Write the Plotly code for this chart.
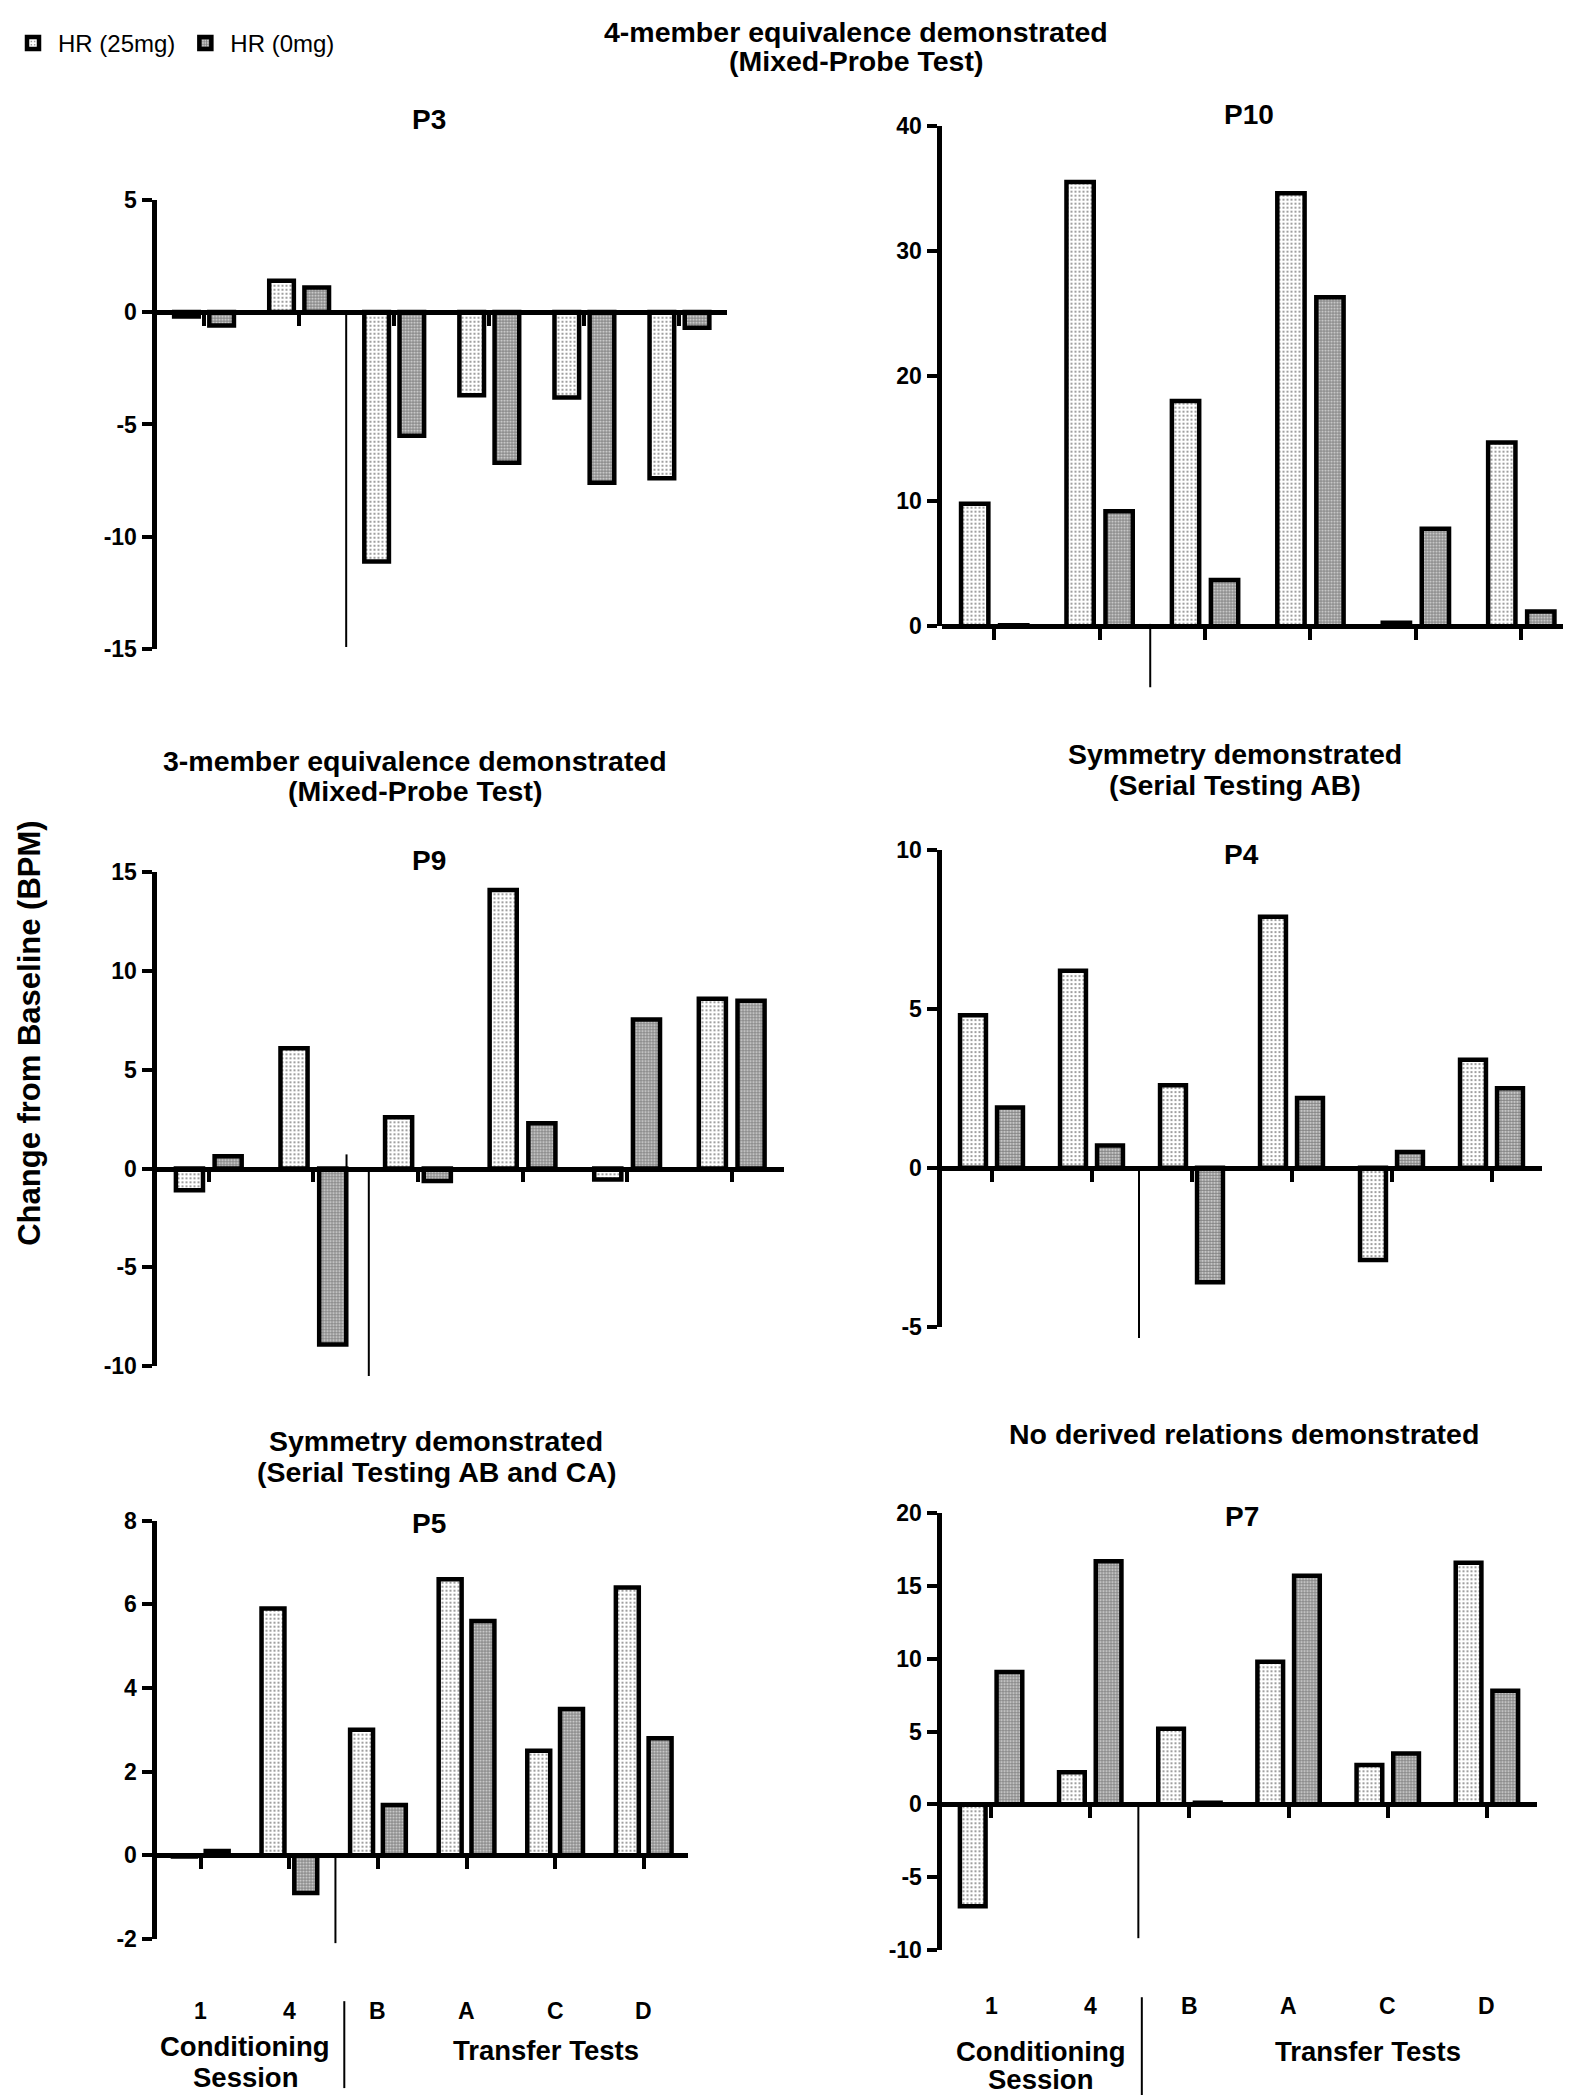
import plotly.graph_objects as go

# ---------------- data ----------------
categories = ["1", "4", "B", "A", "C", "D"]
series_names = ["HR (25mg)", "HR (0mg)"]

p3_hr25 = [-0.2, 1.4, -11.1, -3.7, -3.8, -7.4]
p3_hr0 = [-0.6, 1.1, -5.5, -6.7, -7.6, -0.7]

p10_hr25 = [9.8, 35.5, 18.0, 34.6, 0.3, 14.7]
p10_hr0 = [0.1, 9.2, 3.7, 26.3, 7.8, 1.2]

p9_hr25 = [-1.1, 6.1, 2.6, 14.1, -0.55, 8.6]
p9_hr0 = [0.63, -8.9, -0.63, 2.3, 7.55, 8.5]

p4_hr25 = [4.8, 6.2, 2.6, 7.9, -2.9, 3.4]
p4_hr0 = [1.9, 0.7, -3.6, 2.2, 0.5, 2.5]

p5_hr25 = [-0.03, 5.9, 3.0, 6.6, 2.5, 6.4]
p5_hr0 = [0.1, -0.9, 1.2, 5.6, 3.5, 2.8]

p7_hr25 = [-7.0, 2.2, 5.2, 9.8, 2.7, 16.6]
p7_hr0 = [9.1, 16.7, 0.1, 15.7, 3.5, 7.8]

p3_ticks = [-15, -10, -5, 0, 5]
p10_ticks = [0, 10, 20, 30, 40]
p9_ticks = [-10, -5, 0, 5, 10, 15]
p4_ticks = [-5, 0, 5, 10]
p5_ticks = [-2, 0, 2, 4, 6, 8]
p7_ticks = [-10, -5, 0, 5, 10, 15, 20]

panel_names = ["P3", "P10", "P9", "P4", "P5", "P7"]
headers = [
    ["4-member equivalence demonstrated", "(Mixed-Probe Test)"],
    [],
    ["3-member equivalence demonstrated", "(Mixed-Probe Test)"],
    ["Symmetry demonstrated", "(Serial Testing AB)"],
    ["Symmetry demonstrated", "(Serial Testing AB and CA)"],
    ["No derived relations demonstrated"],
]
bottom_group_labels = ["Conditioning", "Session", "Transfer Tests"]
y_title = "Change from Baseline (BPM)"

# separator segments in category / value units: (x, y_top, y_bottom)
p3_sep = [(1.495, 0, -14.9)]
p10_sep = [(1.48, 0.2, -4.86)]
p9_sep = [(1.317, 0.72, 0), (1.53, 0, -10.5)]
p4_sep = [(1.475, 0, -5.36)]
p5_sep = [(1.52, 0, -2.1)]
p7_sep = [(1.485, 0, -9.2)]

# ---------------- layout geometry (pixels) ----------------
W, H = 1571, 2100
FONT = "Liberation Sans, Arial, Helvetica, sans-serif"

panels = [
    dict(h25=p3_hr25, h0=p3_hr0, ticks=p3_ticks, sep=p3_sep,
         px=(148.5, 719), py=(181, 636), title=(421, 100),
         head=(848, [11, 41])),
    dict(h25=p10_hr25, h0=p10_hr0, ticks=p10_ticks, sep=p10_sep,
         px=(933.5, 1566), py=(106, 613), title=(1241, 95), head=None),
    dict(h25=p9_hr25, h0=p9_hr0, ticks=p9_ticks, sep=p9_sep,
         px=(148.5, 776), py=(862, 1362), title=(421, 850),
         head=(407, [749, 780])),
    dict(h25=p4_hr25, h0=p4_hr0, ticks=p4_ticks, sep=p4_sep,
         px=(933.5, 1533.5), py=(839.5, 1322), title=(1233.5, 844),
         head=(1227, [742, 774])),
    dict(h25=p5_hr25, h0=p5_hr0, ticks=p5_ticks, sep=p5_sep,
         px=(148.5, 680), py=(1518.5, 1942), title=(421, 1521),
         head=(428, [1438, 1469])),
    dict(h25=p7_hr25, h0=p7_hr0, ticks=p7_ticks, sep=p7_sep,
         px=(933.5, 1528.5), py=(1511, 1953), title=(1233.5, 1514),
         head=(1236, [1431])),
]


def fx(p):
    return p / W


def fy(p):
    return 1 - p / H


pat25 = dict(shape=".", fgcolor="black", bgcolor="white", size=4, solidity=0.2)
pat0 = dict(shape=".", fgcolor="black", bgcolor="white", size=3, solidity=0.7)

fig = go.Figure()
shapes = []
annotations = []
layout_axes = {}

x_idx = list(range(len(categories)))

for i, pn in enumerate(panels, start=1):
    xa = "x" if i == 1 else f"x{i}"
    ya = "y" if i == 1 else f"y{i}"
    ymin, ymax = min(pn["ticks"]), max(pn["ticks"])
    for vals, name, pat in ((pn["h25"], series_names[0], pat25),
                            (pn["h0"], series_names[1], pat0)):
        fig.add_trace(go.Bar(
            x=x_idx, y=vals, name=name, xaxis=xa, yaxis=ya,
            legendgroup=name, showlegend=(i == 1),
            marker=dict(color="white", pattern=pat,
                        line=dict(color="black", width=4.5)),
        ))
    yd = [fy(pn["py"][1]), fy(pn["py"][0])]
    xd = [fx(pn["px"][0]), fx(pn["px"][1])]
    zero_pos = yd[0] + (0 - ymin) / (ymax - ymin) * (yd[1] - yd[0])
    layout_axes["xaxis" if i == 1 else f"xaxis{i}"] = dict(
        domain=xd, range=[-0.5, len(categories) - 0.5], anchor="free",
        position=zero_pos, tickmode="array", tickvals=x_idx,
        showticklabels=False, ticks="outside", ticklen=11, tickwidth=3.5,
        tickcolor="black", showline=True, linewidth=4.5, linecolor="black",
        showgrid=False, zeroline=False, fixedrange=True,
    )
    layout_axes["yaxis" if i == 1 else f"yaxis{i}"] = dict(
        domain=yd, range=[ymin, ymax], anchor=xa, tickmode="array",
        tickvals=pn["ticks"], ticktext=[str(t) for t in pn["ticks"]],
        ticks="outside", ticklen=10, tickwidth=3.5,
        tickcolor="black", showline=True, linewidth=5, linecolor="black",
        showgrid=False, zeroline=False, fixedrange=True,
        tickfont=dict(family=FONT, size=23, color="black", weight="bold"),
    )
    # separators
    for (sx, st, sb) in pn["sep"]:
        xf = (sx + 0.5) / len(categories)
        shapes.append(dict(
            type="line", xref=f"{xa} domain", yref=f"{ya} domain",
            x0=xf, x1=xf,
            y0=(st - ymin) / (ymax - ymin), y1=(sb - ymin) / (ymax - ymin),
            line=dict(color="black", width=2),
        ))
    # panel title
    annotations.append(dict(
        text=panel_names[i - 1], x=fx(pn["title"][0]), y=fy(pn["title"][1]),
        xref="paper", yref="paper", showarrow=False, xanchor="center",
        yanchor="middle",
        font=dict(family=FONT, size=28, color="black", weight="bold"),
    ))
    if pn["head"] is not None:
        hx, hys = pn["head"]
        for line_text, hy in zip(headers[i - 1], hys):
            annotations.append(dict(
                text=line_text, x=fx(hx), y=fy(hy), xref="paper",
                yref="paper", showarrow=False, xanchor="center",
                yanchor="middle",
                font=dict(family=FONT, size=28.5, color="black", weight="bold"),
            ))

# bottom category labels and group labels (under P5 and P7)
bottom_cfg = [
    dict(panel=5, lab_y=2015, cond=(0.5, 2051, 2082), trans=(3.9, 2055),
         div=(1.62, 2005, 2093)),
    dict(panel=6, lab_y=2010, cond=(0.5, 2056, 2084), trans=(3.8, 2056),
         div=(1.52, 2001, 2100)),
]
for bc in bottom_cfg:
    xa = f"x{bc['panel']}"
    for k, c in enumerate(categories):
        annotations.append(dict(
            text=c, x=k, y=fy(bc["lab_y"]), xref=xa, yref="paper",
            showarrow=False, xanchor="center", yanchor="middle",
            font=dict(family=FONT, size=23, color="black", weight="bold"),
        ))
    cx, cy1, cy2 = bc["cond"]
    for txt, yy in ((bottom_group_labels[0], cy1), (bottom_group_labels[1], cy2)):
        annotations.append(dict(
            text=txt, x=cx, y=fy(yy), xref=xa, yref="paper", showarrow=False,
            xanchor="center", yanchor="middle",
            font=dict(family=FONT, size=27.5, color="black", weight="bold"),
        ))
    tx, ty = bc["trans"]
    annotations.append(dict(
        text=bottom_group_labels[2], x=tx, y=fy(ty), xref=xa, yref="paper",
        showarrow=False, xanchor="center", yanchor="middle",
        font=dict(family=FONT, size=27.5, color="black", weight="bold"),
    ))
    dx, dy0, dy1 = bc["div"]
    xf = (dx + 0.5) / len(categories)
    shapes.append(dict(
        type="line", xref=f"{xa} domain", yref="paper", x0=xf, x1=xf,
        y0=fy(dy0), y1=fy(dy1), line=dict(color="black", width=2),
    ))

# y-axis title
annotations.append(dict(
    text=y_title, x=fx(2), y=fy(1025), xref="paper", yref="paper",
    showarrow=False, textangle=-90, xanchor="left", yanchor="middle",
    font=dict(family=FONT, size=31, color="black", weight="bold"),
))

fig.update_layout(
    width=W, height=H, margin=dict(l=0, r=0, t=0, b=0),
    paper_bgcolor="white", plot_bgcolor="white",
    barmode="group", bargap=0.26, bargroupgap=0.3,
    showlegend=True,
    legend=dict(orientation="h", x=0.0, y=1.0, xanchor="left", yanchor="top",
                font=dict(family=FONT, size=24, color="black"),
                bgcolor="rgba(0,0,0,0)", itemwidth=40),
    shapes=shapes, annotations=annotations,
    **layout_axes,
)

fig.write_html("out.html")
